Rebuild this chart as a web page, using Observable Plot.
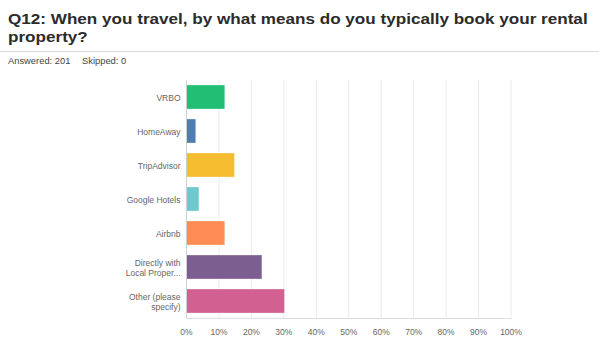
<!DOCTYPE html>
<html>
<head>
<meta charset="utf-8">
<script src="https://cdn.jsdelivr.net/npm/d3@7"></script>
<script src="https://cdn.jsdelivr.net/npm/@observablehq/plot@0.6"></script>
<style>
  html, body { margin: 0; padding: 0; background: #fff; width: 599px; height: 351px; overflow: hidden; }
  body { position: relative; font-family: "Liberation Sans", Arial, sans-serif; }
  #title { position: absolute; left: 8px; top: 10px; font-size: 15px; line-height: 18px; font-weight: bold; color: #2b2b2b; transform: scaleX(1.14); transform-origin: 0 0; white-space: nowrap; }
  #rule { position: absolute; left: 0; top: 51px; width: 599px; height: 1px; background: #d9d9d9; }
  .meta { position: absolute; top: 56px; font-size: 8.5px; line-height: 11px; color: #444; transform: scaleX(1.1); transform-origin: 0 0; white-space: nowrap; }
  #chart { position: absolute; left: 0; top: 70px; }
</style>
</head>
<body>
<div id="title">Q12: When you travel, by what means do you typically book your rental<br>property?</div>
<div id="rule"></div>
<div class="meta" style="left:8px">Answered: 201</div>
<div class="meta" style="left:81.5px">Skipped: 0</div>
<div id="chart"></div>
<script>
const categories = ["VRBO", "HomeAway", "TripAdvisor", "Google Hotels", "Airbnb", "Directly with\nLocal Proper...", "Other (please\nspecify)"];
const percents = [11.94, 2.99, 14.93, 3.98, 11.94, 23.38, 30.35];
const palette = ["#21bf73", "#507cb6", "#f7bd30", "#6ec8cd", "#ff8c52", "#7d5e90", "#d26090"];
const xTicks = [0, 10, 20, 30, 40, 50, 60, 70, 80, 90, 100];

const data = categories.map((c, i) => ({category: c, value: percents[i]}));

const chart = Plot.plot({
  width: 599,
  height: 281,
  marginLeft: 186,
  marginRight: 88.5,
  marginTop: 10,
  marginBottom: 33,
  style: {fontFamily: "'Liberation Sans', Arial, sans-serif", fontSize: "8.5px", color: "#666", background: "transparent"},
  x: {domain: [0, 100], ticks: xTicks, tickFormat: d => d + "%", label: null},
  y: {domain: categories, paddingInner: 0.294, paddingOuter: 0.147, label: null},
  color: {domain: categories, range: palette},
  marks: [
    Plot.gridX(xTicks, {stroke: "#ececec", strokeOpacity: 1}),
    Plot.frame({anchor: "bottom", stroke: "#dddddd"}),
    Plot.barX(data, {x: "value", y: "category", fill: "category", stroke: "#ffffff", strokeOpacity: 0.3, strokeWidth: 1}),
    Plot.ruleX([0], {stroke: "#d0d0d0"}),
    Plot.axisX({ticks: xTicks, tickFormat: d => d + "%", tickSize: 0, tickPadding: 10, fill: "#666", label: null}),
    Plot.axisY({tickSize: 0, tickPadding: 6, fill: "#666", lineHeight: 1.18, label: null})
  ]
});
document.getElementById("chart").appendChild(chart);
</script>
</body>
</html>
